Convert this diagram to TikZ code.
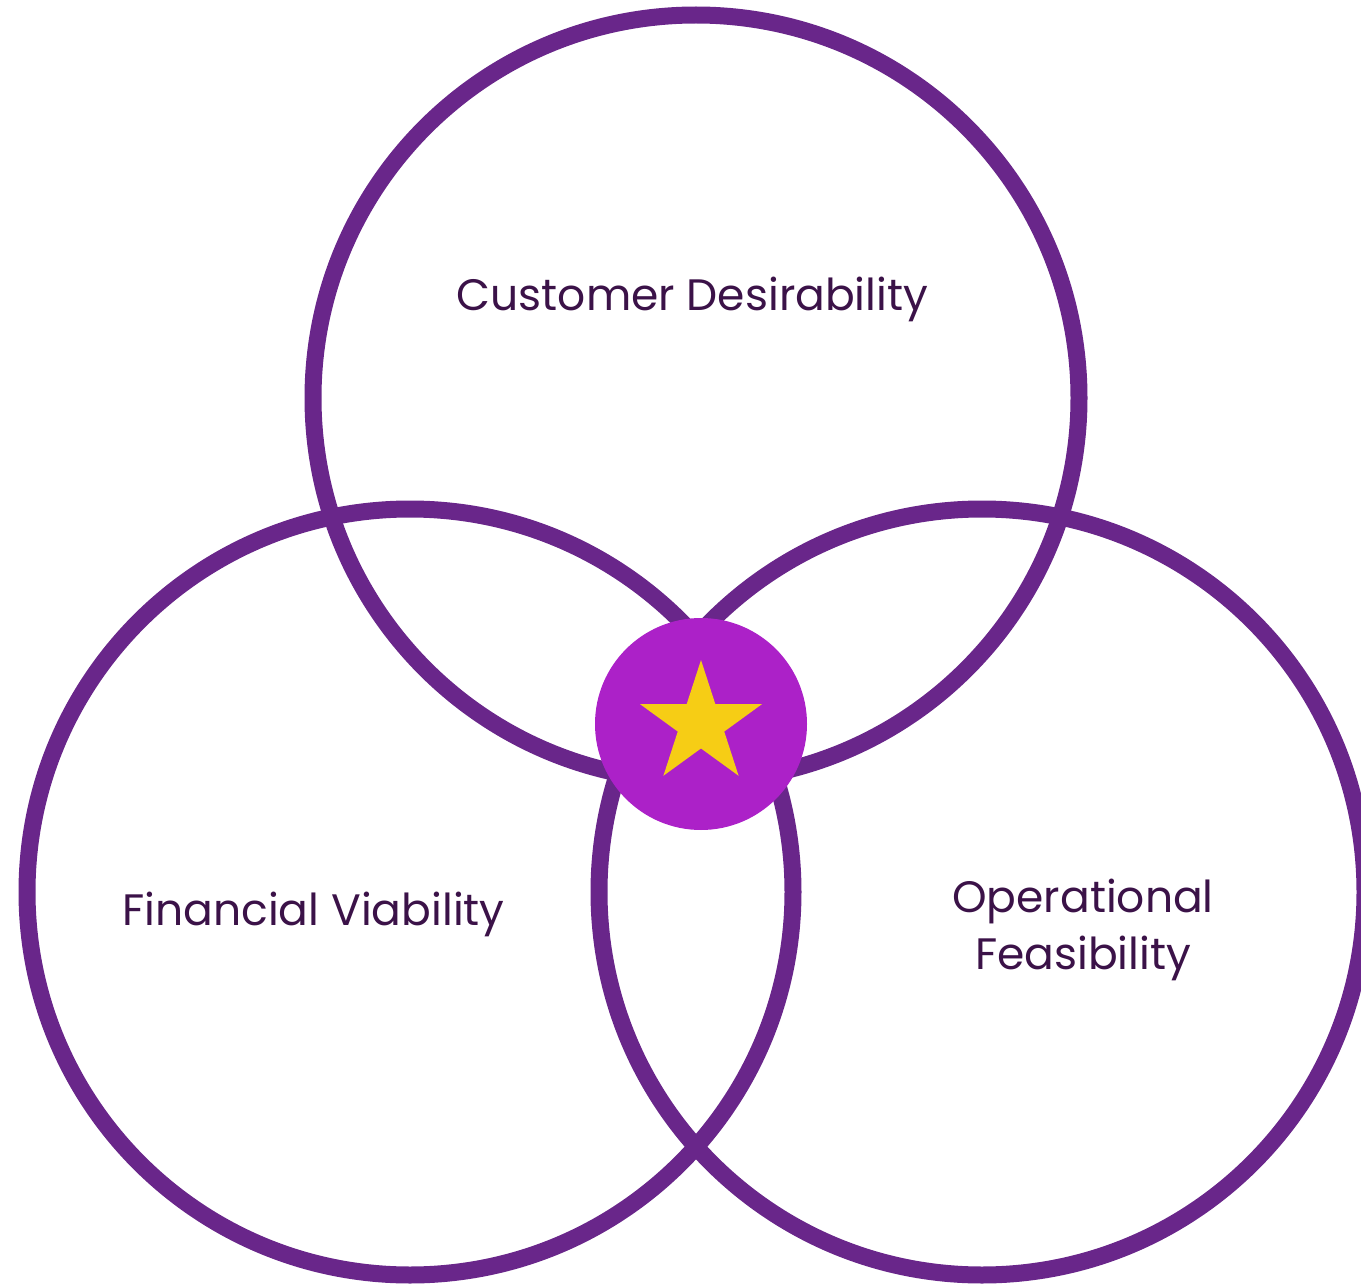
\documentclass[tikz,border=0pt]{standalone}
\usepackage{fontspec}
\setmainfont{Poppins}
\usetikzlibrary{shapes.geometric}
\definecolor{ringpurple}{RGB}{105, 38, 138}
\definecolor{hubmagenta}{RGB}{172, 33, 200}
\definecolor{staryellow}{RGB}{246, 205, 21}
\definecolor{labelplum}{RGB}{59, 18, 72}
\tikzset{every picture/.style={line width=0.75pt}}
\tikzset{
  ring/.style={circle, draw=ringpurple, line width=17pt, inner sep=0pt, minimum size=766pt},
  ringlabel/.style={text=labelplum, inner sep=0.75pt, align=center, font=\fontsize{44}{57}\selectfont},
}

\begin{document}
\begin{tikzpicture}[x=1pt,y=1pt,yscale=-1]
\useasboundingbox (0,0) rectangle (1361,1284);

%Shape: Circle (top)
\node [ring] (desire) at (696,398) {};
%Shape: Circle (left)
\node [ring] (viable) at (410,892) {};
%Shape: Circle (right)
\node [ring] (feasible) at (982,892) {};

%Shape: Circle (hub)
\node [circle, fill=hubmagenta, inner sep=0pt, minimum size=212pt] (hub) at (701,724) {};
%Shape: Star
\node [star, star points=5, star point ratio=2.618, fill=staryellow, inner sep=0pt, minimum size=128pt] (goal) at (hub.center) {};

% Text Node
\node [ringlabel, anchor=base] (desirelabel) at (692.5,310) {Customer Desirability};
% Text Node
\node [ringlabel, anchor=base] (viablelabel) at (313.5,925) {Financial Viability};
% Text Node
\node [ringlabel] (feasiblelabel) at (1083,930) {Operational\\Feasibility};

\end{tikzpicture}
\end{document}
